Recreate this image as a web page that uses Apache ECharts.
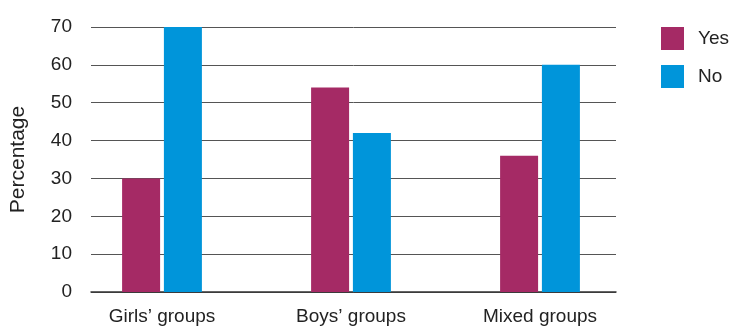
<!DOCTYPE html>
<html><head><meta charset="utf-8">
<script src="https://cdn.jsdelivr.net/npm/echarts@6/dist/echarts.min.js"></script>
<style>html,body{margin:0;padding:0;background:#fff}#c{width:734px;height:327px}</style>
</head><body><div id="c"></div>
<script>
var categories = ["Girls\u2019 groups", "Boys\u2019 groups", "Mixed groups"];
var yesValues = [30, 54, 36];
var noValues = [70, 42, 60];
var yTicks = [0, 10, 20, 30, 40, 50, 60, 70];

var font = "Liberation Sans";
var chart = echarts.init(document.getElementById('c'));
chart.setOption({
  animation: false,
  textStyle: {fontFamily: font},
  legend: {
    orient: 'vertical', left: 656, top: 22,
    itemWidth: 23, itemHeight: 23, itemGap: 15,
    icon: 'rect',
    textStyle: {fontSize: 19, color: '#222', fontFamily: font, padding: [0,0,0,9]},
    data: ['Yes', 'No']
  },
  grid: [
    {left: 87, right: 118, top: 27, bottom: 35},
    {left: 67.5, width: 567, top: 27, bottom: 35}
  ],
  xAxis: [
    {gridIndex: 0, type: 'category', data: categories, show: true,
     axisLine: {lineStyle: {color: '#333', width: 1.5}}, axisTick: {show: false}, axisLabel: {show: false}},
    {gridIndex: 1, type: 'category', data: categories,
     axisLine: {show: false}, axisTick: {show: false},
     axisLabel: {fontSize: 19, color: '#222', margin: 15, fontFamily: font}}
  ],
  yAxis: [
    {gridIndex: 0, type: 'value', min: yTicks[0], max: yTicks[yTicks.length-1], interval: 10,
     name: 'Percentage', nameLocation: 'middle', nameGap: 62,
     nameTextStyle: {fontSize: 21, color: '#222', fontFamily: font},
     axisLine: {show: false}, axisTick: {show: false},
     axisLabel: {fontSize: 19, color: '#222', margin: 19, fontFamily: font},
     splitLine: {lineStyle: {color: '#555', width: 1}}},
    {gridIndex: 1, type: 'value', min: yTicks[0], max: yTicks[yTicks.length-1], interval: 10, show: false,
     splitLine: {show: false}}
  ],
  series: [
    {name: 'Yes', type: 'bar', xAxisIndex: 1, yAxisIndex: 1, data: yesValues,
     barWidth: 38, barGap: '10%', itemStyle: {color: '#A52A65'}},
    {name: 'No', type: 'bar', xAxisIndex: 1, yAxisIndex: 1, data: noValues,
     barWidth: 38, barGap: '10%', itemStyle: {color: '#0095DA'}}
  ]
});
</script></body></html>
